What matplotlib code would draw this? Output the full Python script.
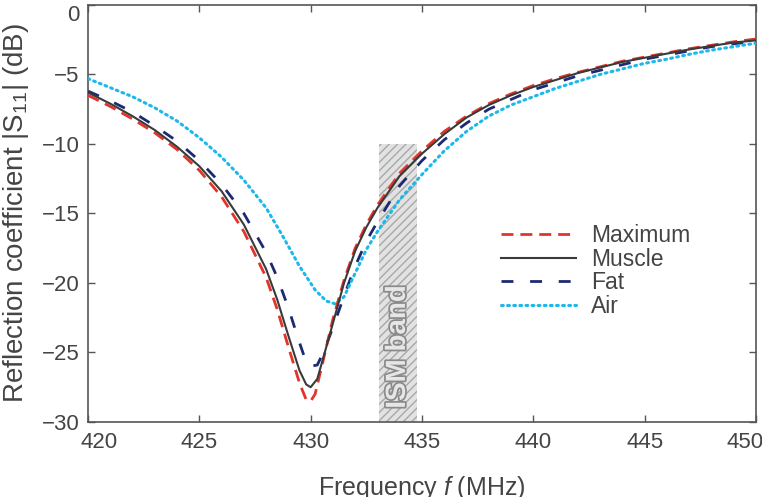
import matplotlib.pyplot as plt
import matplotlib.patheffects as pe
from matplotlib.patches import Rectangle
from matplotlib.transforms import ScaledTranslation

# frequency (MHz) and |S11| (dB)
f_max = [420, 421, 422, 423, 424, 425, 426, 427, 428, 428.5, 429, 429.5, 429.8, 430.0, 430.2, 430.5,
         431.0, 431.5, 432, 432.5, 433, 434, 435, 436, 437, 438, 439, 440, 441, 442, 443, 444, 445,
         446, 447, 448, 449, 450]
s_max = [-6.5, -7.3, -8.2, -9.2, -10.4, -11.9, -13.8, -16.3, -19.6, -21.9, -24.6, -27.2, -28.4, -28.5,
         -28.0, -26.0, -22.6, -19.8, -17.5, -15.8, -14.4, -12.1, -10.5, -9.1, -8.0, -7.1, -6.4, -5.8,
         -5.3, -4.85, -4.45, -4.05, -3.75, -3.45, -3.15, -2.9, -2.65, -2.45]

f_muscle = [420, 421, 422, 423, 424, 425, 426, 427, 428, 428.5, 429, 429.5, 429.8, 430.0, 430.3, 430.6,
            431.0, 431.5, 432, 432.5, 433, 434, 435, 436, 437, 438, 439, 440, 441, 442, 443, 444, 445,
            446, 447, 448, 449, 450]
s_muscle = [-6.3, -7.1, -8.0, -9.0, -10.2, -11.6, -13.4, -15.8, -19.0, -21.2, -23.8, -26.3, -27.3, -27.5,
            -26.9, -25.2, -22.9, -20.0, -17.7, -16.0, -14.6, -12.3, -10.7, -9.3, -8.1, -7.2, -6.5, -5.9,
            -5.4, -4.9, -4.5, -4.1, -3.8, -3.5, -3.2, -2.95, -2.7, -2.55]

f_fat = [420, 421, 422, 423, 424, 425, 426, 427, 428, 428.5, 429, 429.5, 429.8, 430.0, 430.3, 430.6,
         431.0, 431.6, 432, 432.5, 433, 434, 435, 436, 437, 438, 439, 440, 441, 442, 443, 444, 445,
         446, 447, 448, 449, 450]
s_fat = [-6.2, -6.9, -7.7, -8.7, -9.8, -11.2, -12.9, -15.0, -17.8, -19.6, -21.8, -24.3, -25.7, -26.0,
         -25.9, -24.9, -23.2, -20.5, -18.8, -17.0, -15.6, -13.0, -11.2, -9.7, -8.5, -7.5, -6.8, -6.1,
         -5.6, -5.1, -4.7, -4.3, -3.9, -3.6, -3.3, -3.0, -2.8, -2.6]

f_air = [420, 421, 422, 423, 424, 425, 426, 427, 428, 428.7, 429.5, 430.2, 430.7, 431.1, 431.5, 432.0,
         432.5, 433.0, 434, 435, 436, 437, 438, 439, 440, 441, 442, 443, 444, 445, 446, 447, 448, 449, 450]
s_air = [-5.3, -5.95, -6.6, -7.4, -8.35, -9.55, -10.95, -12.6, -14.6, -16.5, -18.8, -20.5, -21.3, -21.5,
         -21.0, -19.3, -17.6, -16.3, -14.0, -12.2, -10.5, -9.1, -8.0, -7.2, -6.6, -6.0, -5.5, -5.0,
         -4.6, -4.2, -3.9, -3.55, -3.25, -3.0, -2.75]

ism_band = [433.05, 434.79]
xticks = [420, 425, 430, 435, 440, 445, 450]
yticks = [-30, -25, -20, -15, -10, -5, 0]

plt.rcParams['font.family'] = ['Liberation Sans', 'DejaVu Sans']
plt.rcParams['mathtext.fontset'] = 'custom'
plt.rcParams['mathtext.it'] = 'Liberation Sans:italic'
plt.rcParams['mathtext.rm'] = 'Liberation Sans'

text_col = '#444444'

fig = plt.figure(figsize=(7.62, 4.97), dpi=100)
ax = fig.add_axes([0.1155, 0.151, 0.8765, 0.839])

# ISM band: grey box with fine diagonal hatching
ax.add_patch(Rectangle((ism_band[0], -30), ism_band[1] - ism_band[0], 20,
                       facecolor='#e2e2e2', edgecolor='#a8a8a8', linewidth=0, hatch='////', zorder=1))
ax.text(sum(ism_band) / 2, -24.6, 'ISM band', rotation=90, ha='center', va='center',
        fontsize=20, fontweight='bold', color='#e6e6e6', zorder=2,
        path_effects=[pe.withStroke(linewidth=2.5, foreground='#8a8a8a')])

ax.plot(f_max, s_max, color='#e0352b', lw=2.0, dashes=(4.3, 2.5), label='Maximum', zorder=4)
ax.plot(f_muscle, s_muscle, color='#3a3a3a', lw=1.5, label='Muscle', zorder=5)
ax.plot(f_fat, s_fat, color='#1d2a72', lw=2.0, dashes=(4.3, 6), label='Fat', zorder=3)
ax.plot(f_air, s_air, color='#1db8ea', lw=2.2, dashes=(0.6, 1.4), dash_capstyle='round',
        label='Air', zorder=3)

ax.set_xlim(420, 450)
ax.set_ylim(-30, 0)
ax.set_xticks(xticks)
ax.set_yticks(yticks)
ax.tick_params(direction='in', top=True, right=True, length=5, width=1, color='#555555',
               labelsize=16, labelcolor=text_col)
ax.tick_params(axis='x', pad=7)
ax.tick_params(axis='y', pad=6)
for sp in ax.spines.values():
    sp.set_color('#555555')
    sp.set_linewidth(1.2)

# end labels sit slightly inside the frame in the reference
xt = ax.xaxis.get_major_ticks()
xt[0].label1.set_transform(xt[0].label1.get_transform() + ScaledTranslation(8 / 72, 0, fig.dpi_scale_trans))
xt[-1].label1.set_transform(xt[-1].label1.get_transform() + ScaledTranslation(-8 / 72, 0, fig.dpi_scale_trans))
yt = ax.yaxis.get_major_ticks()
yt[-1].label1.set_transform(yt[-1].label1.get_transform() + ScaledTranslation(0, -6 / 72, fig.dpi_scale_trans))

ax.set_xlabel('Frequency $f$ (MHz)', fontsize=18, color=text_col, labelpad=15)
ax.set_ylabel(r'Reflection coefficient |$\mathregular{S_{11}}$| (dB)', fontsize=20,
              color=text_col, labelpad=8)

leg = ax.legend(loc='upper left', bbox_to_anchor=(0.618, 0.475), frameon=False, fontsize=16.5,
                handlelength=3.3, handletextpad=0.65, labelspacing=0.03, borderpad=0, borderaxespad=0)
for t in leg.get_texts():
    t.set_color(text_col)

fig.savefig('out.png', dpi=100)
